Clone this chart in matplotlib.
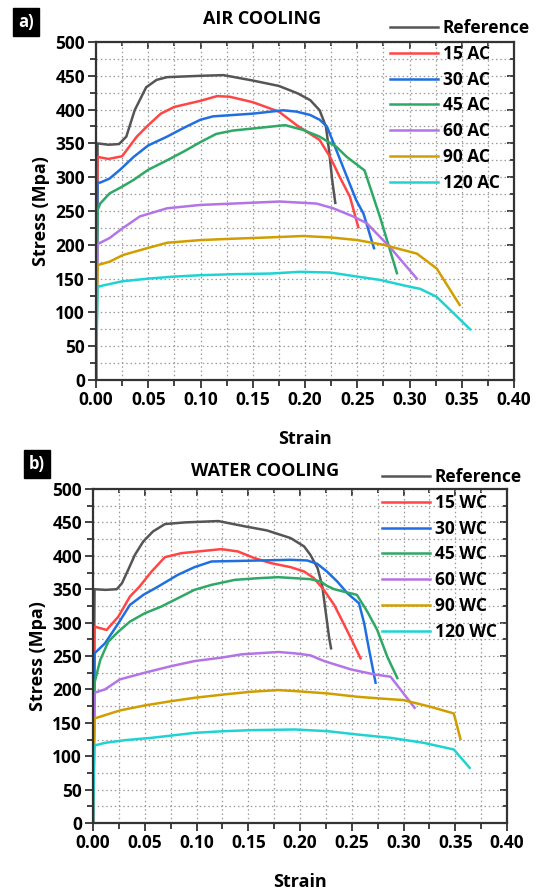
import numpy as np
import matplotlib
matplotlib.use("Agg")
import matplotlib.pyplot as plt
from matplotlib.ticker import MultipleLocator

# ---- air cooling (panel a) ----
ref_ac_x = [0, 0.0015, 0.012, 0.022, 0.029, 0.037, 0.048, 0.058, 0.068, 0.10, 0.122, 0.15, 0.175, 0.193, 0.205, 0.214, 0.220, 0.223, 0.226, 0.229]
ref_ac_y = [0, 350, 348, 349, 360, 399, 433, 444, 448, 450, 451, 443, 435, 424, 414, 399, 375, 340, 296, 262]
ac15_x = [0, 0.0015, 0.012, 0.025, 0.039, 0.05, 0.062, 0.075, 0.10, 0.116, 0.128, 0.15, 0.175, 0.192, 0.214, 0.224, 0.233, 0.243, 0.251]
ac15_y = [0, 330, 327, 331, 360, 377, 394, 404, 413, 420, 419, 411, 397, 377, 355, 330, 301, 271, 226]
ac30_x = [0, 0.0015, 0.004, 0.013, 0.023, 0.036, 0.05, 0.068, 0.084, 0.10, 0.112, 0.131, 0.15, 0.179, 0.192, 0.205, 0.214, 0.221, 0.23, 0.24, 0.249, 0.256, 0.266]
ac30_y = [0, 292, 292, 298, 311, 330, 347, 360, 373, 385, 390, 392, 394, 399, 397, 392, 385, 375, 340, 301, 266, 246, 195]
ac45_x = [0, 0.0015, 0.004, 0.013, 0.025, 0.036, 0.05, 0.068, 0.084, 0.10, 0.115, 0.131, 0.15, 0.181, 0.198, 0.214, 0.23, 0.24, 0.257, 0.272, 0.288]
ac45_y = [0, 251, 261, 276, 286, 296, 311, 325, 338, 352, 364, 369, 372, 377, 370, 360, 345, 330, 310, 240, 158]
ac60_x = [0, 0.0015, 0.013, 0.025, 0.042, 0.068, 0.10, 0.131, 0.176, 0.211, 0.227, 0.246, 0.259, 0.281, 0.307]
ac60_y = [0, 201, 210, 224, 242, 254, 259, 261, 264, 261, 254, 242, 232, 197, 150]
ac90_x = [0, 0.0015, 0.013, 0.026, 0.049, 0.068, 0.10, 0.131, 0.167, 0.198, 0.224, 0.25, 0.275, 0.307, 0.326, 0.348]
ac90_y = [0, 170, 175, 185, 195, 203, 207, 209, 211, 213, 211, 207, 200, 187, 165, 111]
ac120_x = [0, 0.0015, 0.025, 0.05, 0.075, 0.10, 0.131, 0.167, 0.195, 0.224, 0.25, 0.272, 0.30, 0.31, 0.326, 0.358]
ac120_y = [0, 138, 146, 150, 153, 155, 156.5, 157.5, 160, 159, 153, 148, 138, 135, 123, 75]

# ---- water cooling (panel b) ----
ref_wc_x = [0, 0.0015, 0.012, 0.023, 0.028, 0.034, 0.0405, 0.0486, 0.058, 0.0695, 0.089, 0.121, 0.147, 0.168, 0.191, 0.204, 0.21, 0.217, 0.2216, 0.225, 0.228, 0.23]
ref_wc_y = [0, 350, 349, 350, 359, 379, 401.5, 421.5, 436.5, 447.5, 450, 452, 444, 438, 426.5, 414, 401.5, 381.5, 354, 314, 279, 261.5]
wc15_x = [0, 0.0015, 0.0132, 0.0245, 0.0357, 0.045, 0.0566, 0.0695, 0.0856, 0.124, 0.14, 0.156, 0.172, 0.191, 0.204, 0.2135, 0.223, 0.233, 0.242, 0.25, 0.2585]
wc15_y = [0, 294, 289, 309, 339, 354, 376.5, 398, 404, 410, 406.5, 396.5, 389, 383, 376.5, 366.5, 349, 326.5, 299, 274, 246.5]
wc30_x = [0, 0.0015, 0.0116, 0.0245, 0.0357, 0.0486, 0.063, 0.082, 0.098, 0.1145, 0.147, 0.191, 0.207, 0.2167, 0.226, 0.236, 0.2457, 0.257, 0.262, 0.2668, 0.273]
wc30_y = [0, 254, 269, 299, 326.5, 341.5, 354, 371.5, 383, 391.5, 392.5, 394, 393, 388, 376.5, 361.5, 344, 329, 299, 259, 210]
wc45_x = [0, 0.0015, 0.007, 0.0148, 0.0245, 0.0357, 0.05, 0.066, 0.082, 0.098, 0.1145, 0.137, 0.16, 0.179, 0.195, 0.21, 0.22, 0.226, 0.233, 0.2457, 0.255, 0.265, 0.2746, 0.2843, 0.294]
wc45_y = [0, 210, 244, 271.5, 286.5, 301.5, 314, 324, 336.5, 349, 356.5, 364, 366.5, 368, 366.5, 365, 361.5, 355, 350, 345, 341.5, 316.5, 289, 249, 217]
wc60_x = [0, 0.0015, 0.0116, 0.026, 0.05, 0.076, 0.0985, 0.124, 0.1435, 0.179, 0.195, 0.21, 0.2232, 0.249, 0.2714, 0.2875, 0.297, 0.3107]
wc60_y = [0, 195, 200, 215, 225, 235, 242.5, 247.5, 252.5, 256, 254, 251, 242.5, 230, 222.5, 219, 200, 172.5]
wc90_x = [0, 0.0015, 0.026, 0.05, 0.076, 0.0985, 0.127, 0.153, 0.179, 0.195, 0.2264, 0.2553, 0.281, 0.30, 0.326, 0.3486, 0.355]
wc90_y = [0, 156.5, 168.5, 176, 182.5, 187.5, 192.5, 196.5, 199, 197.5, 194, 189, 186, 184, 174, 164, 126]
wc120_x = [0, 0.0015, 0.0116, 0.031, 0.0566, 0.0985, 0.127, 0.153, 0.195, 0.2264, 0.2553, 0.2875, 0.3197, 0.3486, 0.364]
wc120_y = [0, 116, 120, 124, 127.5, 135, 137.5, 139, 140, 137.5, 132.5, 127.5, 120, 110, 82.5]

colors = ["#555555", "#FF4545", "#1F6FE0", "#2EA865", "#B374E6", "#D19E00", "#1FD3D3"]
ac_labels = ["Reference", "15 AC", "30 AC", "45 AC", "60 AC", "90 AC", "120 AC"]
wc_labels = ["Reference", "15 WC", "30 WC", "45 WC", "60 WC", "90 WC", "120 WC"]
ac_series = [(ref_ac_x, ref_ac_y), (ac15_x, ac15_y), (ac30_x, ac30_y), (ac45_x, ac45_y),
             (ac60_x, ac60_y), (ac90_x, ac90_y), (ac120_x, ac120_y)]
wc_series = [(ref_wc_x, ref_wc_y), (wc15_x, wc15_y), (wc30_x, wc30_y), (wc45_x, wc45_y),
             (wc60_x, wc60_y), (wc90_x, wc90_y), (wc120_x, wc120_y)]

plt.rcParams.update({
    "font.family": ["Open Sans", "DejaVu Sans"],
    "font.weight": "bold",
    "axes.labelweight": "bold",
    "font.size": 12,
})

W, H = 539, 894
fig = plt.figure(figsize=(W / 100, H / 100), dpi=100)


def px_box(l, t, r, b):
    return [l / W, 1 - b / H, (r - l) / W, (b - t) / H]


def style_axes(ax):
    ax.set_xlim(0, 0.40)
    ax.set_ylim(0, 500)
    ax.xaxis.set_minor_locator(MultipleLocator(0.025))
    ax.yaxis.set_major_locator(MultipleLocator(50))
    ax.yaxis.set_minor_locator(MultipleLocator(25))
    ticks = np.arange(0, 0.401, 0.05)
    ax.set_xticks(ticks)
    ax.set_xticklabels([f"{v:.2f}" for v in ticks])
    ax.grid(True, which="both", linestyle=(0, (1.2, 2.2)), color="#9a9a9a", linewidth=0.9)
    ax.set_axisbelow(True)
    for s in ax.spines.values():
        s.set_linewidth(1.6)
        s.set_color("#333333")
    ax.tick_params(which="both", direction="out", color="#333333", width=1.3,
                   labelsize=12.5, pad=2)
    ax.tick_params(which="major", length=6)
    ax.tick_params(which="minor", length=4)
    # inward ticks on the top and right edges
    sec_x = ax.secondary_xaxis("top")
    sec_x.xaxis.set_major_locator(MultipleLocator(0.05))
    sec_x.xaxis.set_minor_locator(MultipleLocator(0.025))
    sec_x.tick_params(which="both", direction="in", labeltop=False, color="#333333", width=1.3)
    sec_x.tick_params(which="major", length=5)
    sec_x.tick_params(which="minor", length=3)
    sec_x.spines["top"].set_visible(False)
    sec_y = ax.secondary_yaxis("right")
    sec_y.yaxis.set_major_locator(MultipleLocator(50))
    sec_y.yaxis.set_minor_locator(MultipleLocator(25))
    sec_y.tick_params(which="both", direction="in", labelright=False, color="#333333", width=1.3)
    sec_y.tick_params(which="major", length=5)
    sec_y.tick_params(which="minor", length=3)
    sec_y.spines["right"].set_visible(False)
    ax.set_xlabel("Strain", fontsize=13, labelpad=15)
    ax.set_ylabel("Stress (Mpa)", fontsize=13, labelpad=4)


def draw_panel(box, series, labels, title, title_xy, leg_xy, tag, tag_xy):
    ax = fig.add_axes(px_box(*box))
    for (x, y), c, lab in zip(series, colors, labels):
        ax.plot(x, y, color=c, lw=1.8, label=lab, solid_joinstyle="round")
    style_axes(ax)
    fig.text(title_xy[0] / W, 1 - title_xy[1] / H, title, ha="center", va="center",
             fontsize=13, fontweight="bold")
    ax.legend(loc="upper left", bbox_to_anchor=(leg_xy[0] / W, 1 - leg_xy[1] / H),
              bbox_transform=fig.transFigure, frameon=False, fontsize=12.5,
              handlelength=2.75, handletextpad=0.3, labelspacing=0.45,
              borderpad=0, borderaxespad=0)
    fig.text(tag_xy[0] / W, 1 - tag_xy[1] / H, tag, ha="center", va="center",
             color="white", fontsize=12, fontweight="bold",
             bbox=dict(boxstyle="square,pad=0.3", facecolor="black", edgecolor="black"))
    return ax


draw_panel((96, 42, 514, 380), ac_series, ac_labels, "AIR COOLING", (262, 19),
           (390, 19), "a)", (26, 22))
draw_panel((93, 489, 507, 823), wc_series, wc_labels, "WATER COOLING", (265, 471),
           (382, 468), "b)", (37, 464))

fig.savefig("out.png", dpi=100)
